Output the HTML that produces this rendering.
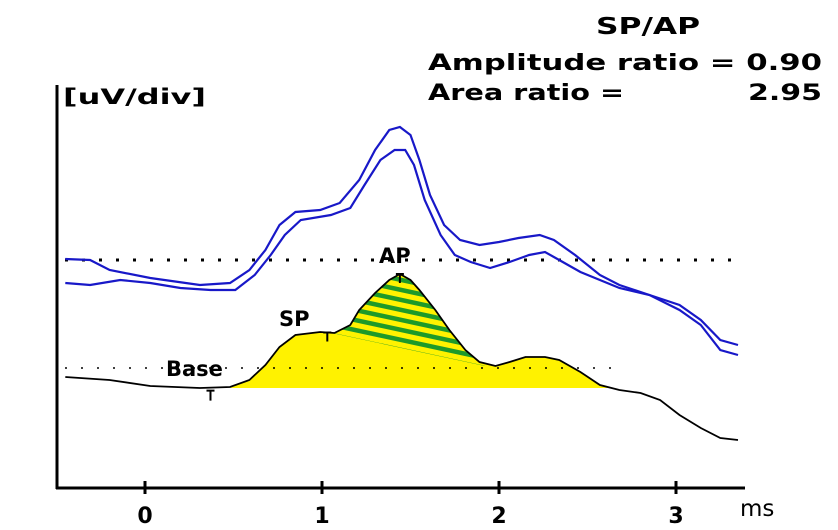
<!DOCTYPE html>
<html><head><meta charset="utf-8"><style>
html,body{margin:0;padding:0;background:#fff;}
svg{display:block;font-family:"DejaVu Sans","Liberation Sans",sans-serif;font-weight:bold;}
</style></head><body>
<svg id="chart" width="838" height="530" viewBox="0 0 838 530" xmlns="http://www.w3.org/2000/svg">
<defs><clipPath id="apclip"><path id="apclippath" d=""/></clipPath></defs>
<text x="648" y="34" font-size="23" text-anchor="middle" textLength="104" lengthAdjust="spacingAndGlyphs">SP/AP</text>
<text x="428" y="70" font-size="22" textLength="394" lengthAdjust="spacingAndGlyphs">Amplitude ratio = 0.90</text>
<text x="428" y="100" font-size="22" textLength="196" lengthAdjust="spacingAndGlyphs">Area ratio =</text>
<text x="822" y="100" font-size="22" text-anchor="end" textLength="74" lengthAdjust="spacingAndGlyphs">2.95</text>
<text x="63" y="104" font-size="21" textLength="143" lengthAdjust="spacingAndGlyphs">[uV/div]</text>
<g id="plot"></g>
</svg>
<script>
// time (ms) and amplitude (pixel-scaled uV units, 0 = base level)
const blackT=[-0.45,-0.2,0.03,0.31,0.48,0.59,0.68,0.76,0.85,0.99,1.07,1.16,1.21,1.30,1.38,1.44,1.50,1.55,1.64,1.72,1.81,1.89,1.98,2.06,2.15,2.26,2.34,2.46,2.57,2.68,2.80,2.91,3.02,3.14,3.25,3.35];
const blackV=[11,8,2,0,1,8,23,41,53,56,55,63,78,95,108,114,108,98,78,58,38,26,22,26,31,31,28,16,3,-2,-5,-12,-27,-40,-50,-52];
const blueAT=[-0.45,-0.31,-0.2,0.03,0.31,0.48,0.59,0.68,0.76,0.85,0.99,1.10,1.21,1.30,1.38,1.44,1.50,1.55,1.61,1.69,1.78,1.89,2.00,2.11,2.23,2.31,2.43,2.57,2.68,2.85,3.02,3.14,3.25,3.35];
const blueAV=[129,128,118,110,103,105,118,138,163,176,178,185,208,238,258,261,253,228,193,163,148,143,146,150,153,148,133,113,103,93,83,68,48,43];
const blueBT=[-0.45,-0.31,-0.14,0.03,0.20,0.37,0.51,0.62,0.71,0.79,0.88,1.05,1.16,1.24,1.33,1.41,1.47,1.52,1.58,1.67,1.75,1.84,1.95,2.06,2.17,2.26,2.34,2.46,2.57,2.68,2.85,3.02,3.14,3.25,3.35];
const blueBV=[105,103,108,105,100,98,98,113,133,153,168,173,180,203,228,238,238,223,188,153,133,126,120,126,133,136,128,116,108,100,93,78,63,38,33];
const xTicks=[0,1,2,3];
const xTickLabels=["0","1","2","3"];
const dotLevels=[128,20];
const fillStart=0.48, fillEnd=2.64;
const spPeak={t:1.03,v:56}, apPeak={t:1.44,v:114}, apEnd={t:1.92,v:22}, basePt={t:0.37,v:0};

const X=t=>145+177*t;
const Y=v=>388-v;
const NS="http://www.w3.org/2000/svg";
const plot=document.getElementById('plot');
function mk(tag,attrs,parent){const e=document.createElementNS(NS,tag);for(const k in attrs)e.setAttribute(k,attrs[k]);(parent||plot).appendChild(e);return e;}
function interp(T,V,t){for(let i=0;i<T.length-1;i++){if(t>=T[i]&&t<=T[i+1]){const f=(t-T[i])/(T[i+1]-T[i]);return V[i]+f*(V[i+1]-V[i]);}}return V[V.length-1];}
function pathOf(T,V){return T.map((t,i)=>(i?'L':'M')+X(t).toFixed(1)+','+Y(V[i]).toFixed(1)).join(' ');}

// yellow fill
let fd='M'+X(fillStart)+','+Y(0);
for(let i=0;i<blackT.length;i++){if(blackT[i]>fillStart&&blackT[i]<fillEnd)fd+=' L'+X(blackT[i])+','+Y(Math.max(0,blackV[i]));}
fd+=' L'+X(fillEnd)+','+Y(0)+' Z';
const fill=mk('path',{d:fd,fill:'#fff200',stroke:'none'});



// AP hatched region
let ad='M'+X(spPeak.t)+','+Y(spPeak.v);
for(let i=0;i<blackT.length;i++){if(blackT[i]>spPeak.t&&blackT[i]<apEnd.t)ad+=' L'+X(blackT[i])+','+Y(blackV[i]);}
ad+=' L'+X(apEnd.t)+','+Y(apEnd.v)+' Z';
document.getElementById('apclippath').setAttribute('d',ad);
const hatch=mk('g',{'clip-path':'url(#apclip)'});


const slope=(Y(apEnd.v)-Y(spPeak.v))/(X(apEnd.t)-X(spPeak.t));
for(let k=0;k<10;k++){const x0=X(spPeak.t)-20,x1=X(apEnd.t)+40,y0=Y(spPeak.v)+2-k*10;
 const ln=mk('line',{x1:x0,y1:y0+slope*(-20),x2:x1,y2:y0+slope*(x1-X(spPeak.t)),stroke:'#1e9a2a','stroke-width':4.5},hatch);
 
 }

// dotted reference lines
dotLevels.forEach((v,i)=>{const l=mk('line',{x1:65,y1:Y(v),x2:i?612:745,y2:Y(v),stroke:'#000','stroke-width':i?1.5:3,'stroke-dasharray':i?'2,14':'3,14'});
 
 });

// traces
[[blueAT,blueAV,'blue-trace-1'],[blueBT,blueBV,'blue-trace-2']].forEach(s=>{const p=mk('path',{d:pathOf(s[0],s[1]),fill:'none',stroke:'#1818c8','stroke-width':2.2});
 
 });
const bp=mk('path',{d:pathOf(blackT,blackV),fill:'none',stroke:'#000','stroke-width':1.8});



// markers
[[basePt,10],[spPeak,10],[apPeak,6]].forEach((m,i)=>{const x=X(m[0].t),y=Y(interp(blackT,blackV,m[0].t));
 const g=mk('path',{stroke:'#000','stroke-width':2,fill:'none'});
 g.setAttribute('d',`M${x-4},${y+(i==0?3:0)} L${x+4},${y+(i==0?3:0)} M${x},${y+(i==0?3:0)} L${x},${y+(i==0?13:9)}`);
 
 });

// labels
[['Base',166,376],['SP',279,326],['AP',379,263]].forEach(a=>{const t=mk('text',{x:a[1],y:a[2],'font-size':21});t.textContent=a[0];
 
 });

// axes
const ya=mk('line',{x1:57,y1:85,x2:57,y2:489,stroke:'#000','stroke-width':3});


const xa=mk('line',{x1:56,y1:488,x2:745,y2:488,stroke:'#000','stroke-width':3});


xTicks.forEach((t,i)=>{const tk=mk('line',{x1:X(t),y1:481,x2:X(t),y2:494,stroke:'#000','stroke-width':3});
 
 
 const lb=mk('text',{x:X(t),y:523,'font-size':22,'text-anchor':'middle'});lb.textContent=xTickLabels[i];
 
 });
const ms=mk('text',{x:740,y:516,'font-size':23,'font-weight':'normal'});ms.textContent='ms';


</script>
</body></html>
